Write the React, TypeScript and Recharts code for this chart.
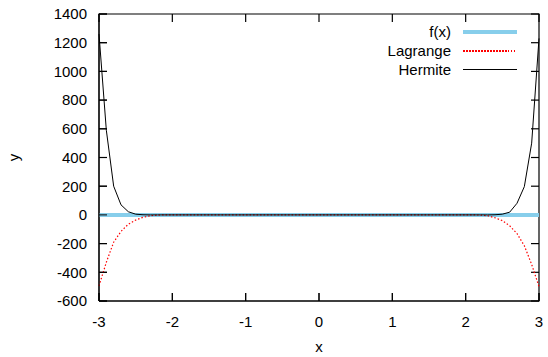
import { LineChart, Line, XAxis, YAxis, Legend, Label } from "recharts";

// sample positions (x)
const xs = [-3, -2.9, -2.8, -2.7, -2.6, -2.5, -2.4, -2.3, -2.2, -2.1, 0, 2.1, 2.2, 2.3, 2.4, 2.5, 2.6, 2.7, 2.8, 2.9, 3];
const fValues = [0, 0, 0, 0, 0, 0, 0, 0, 0, 0, 0, 0, 0, 0, 0, 0, 0, 0, 0, 0, 0];
const lagrangeValues = [-495, -330, -190, -115, -65, -36, -17, -6, -1, 0, 0, 0, -1, -6, -20, -40, -76, -130, -215, -345, -500];
const hermiteValues = [1260, 590, 200, 70, 22, 5, 1, 0, 0, 0, 0, 0, 0, 0, 1, 5, 19, 81, 197, 500, 1230];

const xTicks = [-3, -2, -1, 0, 1, 2, 3];
const yTicks = [-600, -400, -200, 0, 200, 400, 600, 800, 1000, 1200, 1400];

const X_MIN = -3;
const X_MAX = 3;
const Y_MIN = -600;
const Y_MAX = 1400;
// inward tick length (~8px) in data units of the 440x287 plot
const X_TICK_LEN = ((Y_MAX - Y_MIN) * 8) / 287;
const Y_TICK_LEN = ((X_MAX - X_MIN) * 8) / 440;

const font = "Liberation Sans";
const fontSize = 15;
const tickStyle = { fill: "#000", fontSize, fontFamily: font };

const data = xs.map((x, i) => ({
  x,
  f: fValues[i],
  lagrange: lagrangeValues[i],
  hermite: hermiteValues[i],
}));

// gnuplot border and inward ticks on all four sides, drawn as plain series
const borderData = [
  { x: X_MIN, v: Y_MIN },
  { x: X_MAX, v: Y_MIN },
  { x: X_MAX, v: Y_MAX },
  { x: X_MIN, v: Y_MAX },
  { x: X_MIN, v: Y_MIN },
];
const tickSegments = [
  ...xTicks.map((t) => [{ x: t, v: Y_MIN }, { x: t, v: Y_MIN + X_TICK_LEN }]),
  ...xTicks.map((t) => [{ x: t, v: Y_MAX }, { x: t, v: Y_MAX - X_TICK_LEN }]),
  ...yTicks.map((t) => [{ x: X_MIN, v: t }, { x: X_MIN + Y_TICK_LEN, v: t }]),
  ...yTicks.map((t) => [{ x: X_MAX, v: t }, { x: X_MAX - Y_TICK_LEN, v: t }]),
];

const legendItems = [
  { label: "f(x)", height: 4, background: "#87ceeb" },
  {
    label: "Lagrange",
    height: 1.5,
    background: "repeating-linear-gradient(to right, #ff0000 0px, #ff0000 1.5px, transparent 1.5px, transparent 3px)",
  },
  { label: "Hermite", height: 1, background: "#000" },
];

const LegendBox = () => (
  <div>
    {legendItems.map((item) => (
      <div key={item.label} style={{ height: 18.7, display: "flex", alignItems: "center" }}>
        <span
          style={{
            width: 91,
            textAlign: "right",
            fontSize,
            fontFamily: font,
            color: "#000",
            lineHeight: "18px",
          }}
        >
          {item.label}
        </span>
        <span style={{ marginLeft: 12, width: 54, height: item.height, background: item.background }} />
      </div>
    ))}
  </div>
);

export default function App() {
  return (
    <div style={{ position: "absolute", left: 0, top: 0 }}>
      <LineChart width={548} height={357} data={data} margin={{ top: 14, right: 9, bottom: 0, left: 0 }}>
        <XAxis
          dataKey="x"
          type="number"
          domain={[X_MIN, X_MAX]}
          ticks={xTicks}
          height={56}
          tickSize={-8}
          tickMargin={23}
          axisLine={{ stroke: "#000" }}
          tickLine={{ stroke: "#000" }}
          tick={tickStyle}
        >
          <Label
            content={({ viewBox }: any) => (
              <text
                x={viewBox.x + viewBox.width / 2}
                y={viewBox.y + 51}
                textAnchor="middle"
                fontSize={fontSize}
                fontFamily={font}
                fill="#000"
              >
                x
              </text>
            )}
          />
        </XAxis>
        <YAxis
          type="number"
          domain={[Y_MIN, Y_MAX]}
          ticks={yTicks}
          width={99}
          tickSize={-8}
          tickMargin={20}
          axisLine={{ stroke: "#000" }}
          tickLine={{ stroke: "#000" }}
          tick={tickStyle}
        >
          <Label
            content={({ viewBox }: any) => {
              const cx = viewBox.x + 13;
              const cy = viewBox.y + viewBox.height / 2;
              return (
                <text
                  x={cx}
                  y={cy}
                  transform={`rotate(-90 ${cx} ${cy})`}
                  textAnchor="middle"
                  dominantBaseline="central"
                  fontSize={fontSize}
                  fontFamily={font}
                  fill="#000"
                >
                  y
                </text>
              );
            }}
          />
        </YAxis>

        <Legend
          layout="vertical"
          align="center"
          verticalAlign="middle"
          wrapperStyle={{ top: 23, left: 360, width: 180 }}
          content={() => <LegendBox />}
        />

        <Line
          data={borderData}
          type="linear"
          dataKey="v"
          stroke="#000"
          strokeWidth={1.2}
          dot={false}
          legendType="none"
          isAnimationActive={false}
        />
        {tickSegments.map((seg, i) => (
          <Line
            key={`tick${i}`}
            data={seg}
            type="linear"
            dataKey="v"
            stroke="#000"
            strokeWidth={1.2}
            dot={false}
            legendType="none"
            isAnimationActive={false}
          />
        ))}

        <Line type="linear" dataKey="f" stroke="#87ceeb" strokeWidth={4} dot={false} isAnimationActive={false} />
        <Line
          type="linear"
          dataKey="lagrange"
          stroke="#ff0000"
          strokeWidth={1.2}
          strokeDasharray="1.5 2"
          dot={false}
          isAnimationActive={false}
        />
        <Line type="linear" dataKey="hermite" stroke="#000" strokeWidth={1} dot={false} isAnimationActive={false} />
      </LineChart>
    </div>
  );
}
